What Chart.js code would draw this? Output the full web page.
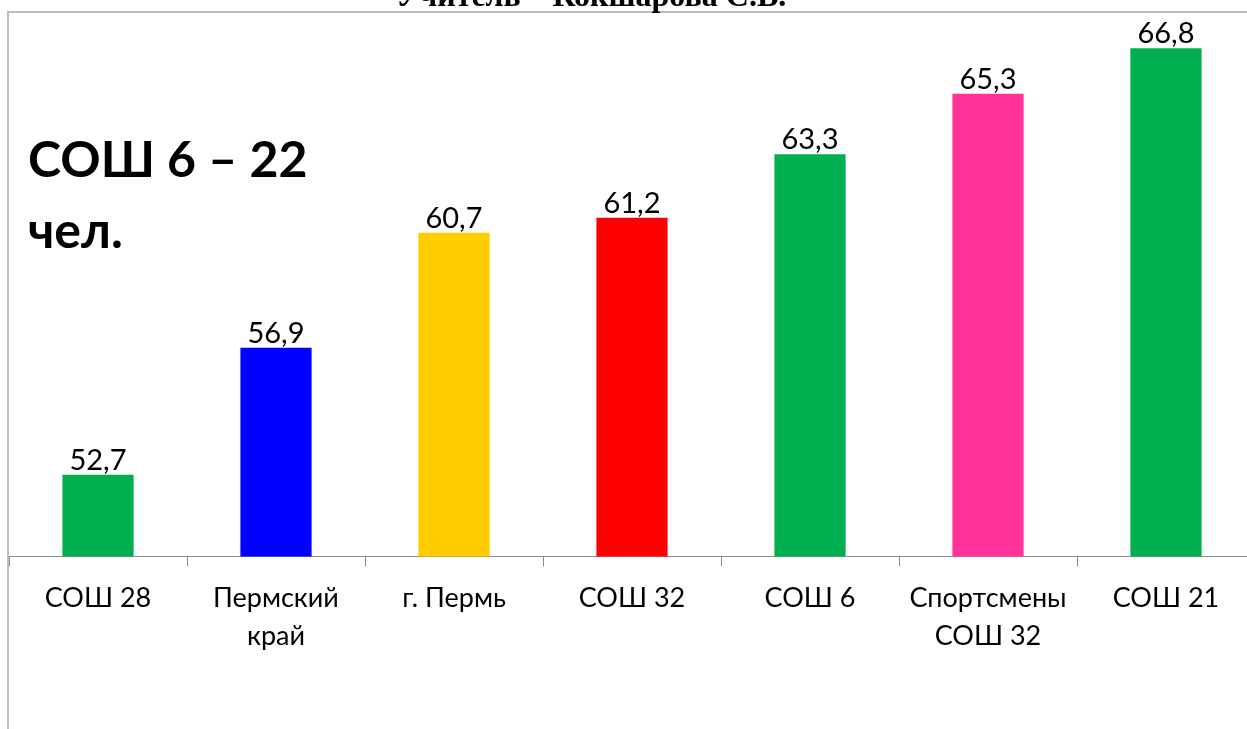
<!DOCTYPE html>
<html>
<head>
<meta charset="utf-8">
<title>СОШ 6 – 22 чел.</title>
<script src="https://cdn.jsdelivr.net/npm/chart.js@4.4.1/dist/chart.umd.min.js"></script>
<style>
  html, body { margin: 0; padding: 0; background: #fff; overflow: hidden; }
  #wrap { position: relative; width: 1260px; height: 729px; }
</style>
</head>
<body>
<div id="wrap"><canvas id="chart-area"></canvas></div>
<script>
  'use strict';

  // data
  var categories = [
    'СОШ 28',
    ['Пермский', 'край'],
    'г. Пермь',
    'СОШ 32',
    'СОШ 6',
    ['Спортсмены', 'СОШ 32'],
    'СОШ 21'
  ];
  var scores = [52.7, 56.9, 60.7, 61.2, 63.3, 65.3, 66.8];
  var barColors = ['#00b050', '#0000ff', '#ffcc00', '#ff0000', '#00b050', '#ff3399', '#00b050'];
  var titleText = 'Учитель – Кокшарова С.В.';
  var noteLines = ['СОШ 6 – 22', 'чел.'];

  var frameColor = '#a6a6a6';
  var axisColor = '#8c8c8c';

  // gray frame: top line and left line running past the plot to the bottom
  var framePlugin = {
    id: 'frame',
    beforeDraw: function (chart) {
      var ctx = chart.ctx;
      var area = chart.chartArea;
      ctx.save();
      ctx.strokeStyle = frameColor;
      ctx.lineWidth = 1.5;
      ctx.beginPath();
      ctx.moveTo(area.left - 1, chart.height);
      ctx.lineTo(area.left - 1, area.top);
      ctx.lineTo(chart.width, area.top);
      ctx.stroke();
      ctx.restore();
    }
  };

  // values above bars, plus the cut-off heading and the side note
  var textPlugin = {
    id: 'texts',
    afterDatasetsDraw: function (chart) {
      var ctx = chart.ctx;
      var meta = chart.getDatasetMeta(0);
      ctx.save();
      ctx.fillStyle = '#000';
      ctx.textAlign = 'center';
      ctx.textBaseline = 'alphabetic';
      ctx.font = '29px Lato';
      meta.data.forEach(function (bar, i) {
        ctx.fillText(String(scores[i]).replace('.', ','), bar.x, bar.y - 5);
      });

      ctx.font = 'bold 32px "Liberation Serif"';
      ctx.fillText(titleText, 591, 6);

      ctx.textAlign = 'left';
      ctx.font = 'bold 50px Lato';
      ctx.fillText(noteLines[0], 28, 177);
      ctx.fillText(noteLines[1], 28, 248);
      ctx.restore();
    }
  };

  var ctx = document.getElementById('chart-area').getContext('2d');
  window.myBar = new Chart(ctx, {
    type: 'bar',
    data: {
      labels: categories,
      datasets: [{
        data: scores,
        backgroundColor: barColors,
        borderWidth: 0,
        barPercentage: 0.4,
        categoryPercentage: 1
      }]
    },
    options: {
      responsive: true,
      maintainAspectRatio: false,
      animation: false,
      layout: { padding: { left: 9, right: 5, top: 12, bottom: 61 } },
      plugins: {
        legend: { display: false },
        tooltip: { enabled: false }
      },
      scales: {
        x: {
          grid: {
            drawOnChartArea: false,
            drawTicks: true,
            tickLength: 10,
            color: axisColor
          },
          border: { display: true, color: axisColor, width: 1 },
          ticks: {
            color: '#000',
            padding: 13,
            maxRotation: 0,
            autoSkip: false,
            font: { family: 'Lato', size: 27, lineHeight: 1.4 }
          }
        },
        y: {
          display: false,
          min: 50,
          max: 68
        }
      }
    },
    plugins: [framePlugin, textPlugin]
  });
</script>
</body>
</html>
